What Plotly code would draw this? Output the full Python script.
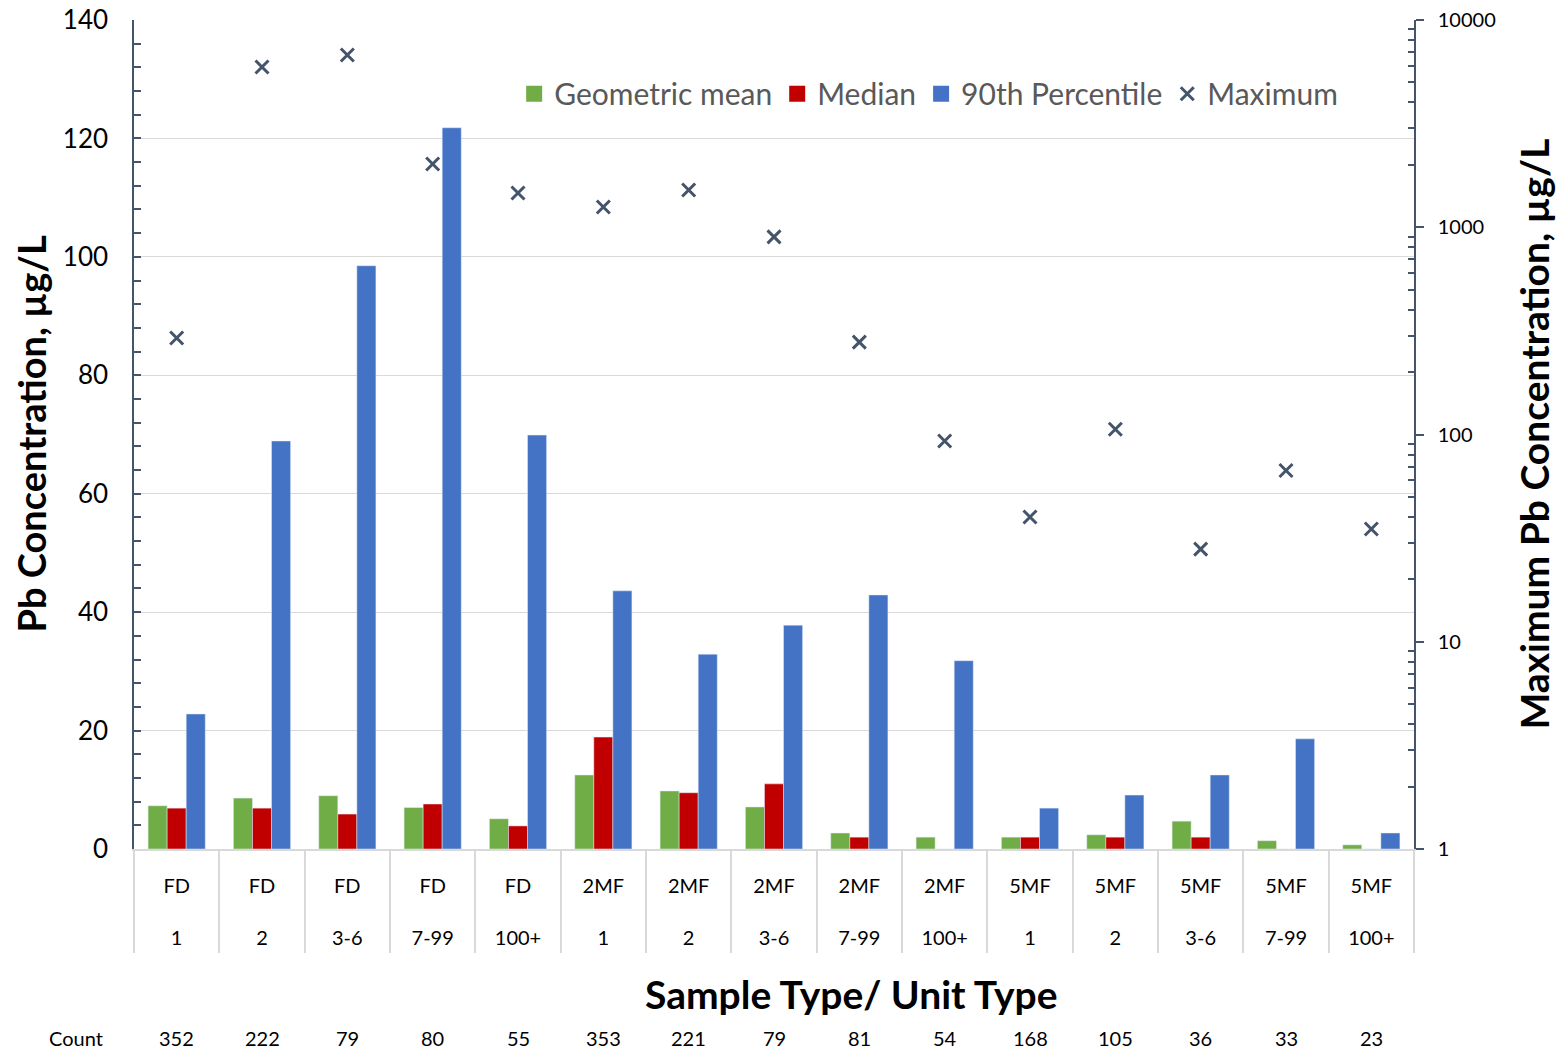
import plotly.graph_objects as go

sample_types = ["FD"] * 5 + ["2MF"] * 5 + ["5MF"] * 5
unit_types = ["1", "2", "3-6", "7-99", "100+"] * 3
categories = [f"{s} {u}" for s, u in zip(sample_types, unit_types)]
tick_text = [f"{s}<br><br>{u}" for s, u in zip(sample_types, unit_types)]

geo_mean = [7.3, 8.6, 9.0, 7.0, 5.1, 12.5, 9.8, 7.1, 2.7, 2.0, 2.0, 2.4, 4.7, 1.4, 0.7]
median = [6.9, 6.9, 5.9, 7.6, 3.9, 18.9, 9.5, 11.0, 2.0, 0, 2.0, 2.0, 2.0, 0, 0]
p90 = [22.8, 68.9, 98.5, 121.8, 69.9, 43.6, 32.9, 37.8, 42.9, 31.8, 6.9, 9.1, 12.5, 18.6, 2.7]
maximum = [292, 5930, 6780, 2020, 1463, 1253, 1513, 898, 279, 93, 40, 106, 28, 67, 35]
counts = [352, 222, 79, 80, 55, 353, 221, 79, 81, 54, 168, 105, 36, 33, 23]

FONT = "Lato"
AX = "#44546A"
GRID = "#D9D9D9"
GREEN, RED, BLUE = "#70AD47", "#C00000", "#4472C4"

fig = go.Figure()
fig.add_bar(x=categories, y=geo_mean, name="Geometric mean", marker_color=GREEN, showlegend=False)
fig.add_bar(x=categories, y=median, name="Median", marker_color=RED, showlegend=False)
fig.add_bar(x=categories, y=p90, name="90th Percentile", marker_color=BLUE, showlegend=False)
# legend entries with larger square swatches
for nm, col in [("Geometric mean", GREEN), ("Median", RED), ("90th Percentile", BLUE)]:
    fig.add_scatter(x=[None], y=[None], mode="markers", name=nm,
                    marker=dict(symbol="square", size=16, color=col))
fig.add_scatter(x=categories, y=maximum, name="Maximum", mode="markers", yaxis="y2",
                marker=dict(symbol="x-thin", size=13, line=dict(width=3, color=AX), color=AX))
# invisible helper trace for the divider axis
fig.add_scatter(x=categories, y=geo_mean, xaxis="x2", mode="markers",
                marker=dict(opacity=0), showlegend=False, hoverinfo="skip")

minor_log = [m * 10 ** d for d in range(4) for m in range(2, 10)]

fig.update_layout(
    width=1559, height=1051,
    margin=dict(l=134, r=145, t=20, b=202, autoexpand=False),
    paper_bgcolor="white", plot_bgcolor="white",
    font=dict(family=FONT, color="#000000"),
    barmode="group", bargap=0.33, bargroupgap=0,
    showlegend=True,
    legend=dict(orientation="h", x=0.297, y=0.911, xanchor="left", yanchor="middle",
                font=dict(size=30, color="#595959", family=FONT), bgcolor="rgba(0,0,0,0)",
                itemsizing="trace", tracegroupgap=0, itemwidth=30),
    xaxis=dict(type="category", categoryorder="array", categoryarray=categories,
               range=[-0.5, 14.5], tickvals=categories, ticktext=tick_text,
               tickfont=dict(size=20, color="#000000"), ticks="", ticklabelstandoff=18,
               showline=True, linecolor=GRID, linewidth=1.5, showgrid=False, zeroline=False,
               automargin=False),
    xaxis2=dict(type="category", categoryorder="array", categoryarray=categories,
                range=[-0.5, 14.5], overlaying="x", anchor="y", side="bottom",
                tickson="boundaries", ticks="outside", ticklen=103, tickwidth=1.5,
                tickcolor=GRID, showticklabels=False, showline=False, showgrid=False,
                zeroline=False, automargin=False),
    yaxis=dict(range=[0, 140], tickvals=list(range(0, 141, 20)), showgrid=True,
               gridcolor=GRID, gridwidth=1.2, zeroline=False,
               showline=True, linecolor=AX, linewidth=1.5,
               ticks="inside", ticklen=7, tickcolor=AX, tickwidth=1.5,
               tickfont=dict(size=26, color="#000000"), ticklabelstandoff=19,
               automargin=False,
               minor=dict(dtick=4, ticks="inside", ticklen=7, tickcolor=AX, tickwidth=1.5,
                          showgrid=False)),
    yaxis2=dict(type="log", range=[0, 4], overlaying="y", side="right",
                tickvals=[1, 10, 100, 1000, 10000], ticktext=["1", "10", "100", "1000", "10000"],
                showgrid=False, zeroline=False, showline=True, linecolor=AX, linewidth=1.5,
                ticks="outside", ticklen=8, tickcolor=AX, tickwidth=1.5,
                tickfont=dict(size=20, color="#000000"), ticklabelstandoff=10,
                automargin=False,
                minor=dict(tickvals=minor_log, ticks="inside", ticklen=6, tickcolor=AX,
                           tickwidth=1.5, showgrid=False)),
)

PLOT_L, PLOT_W, PLOT_B, PLOT_H = 134, 1280, 849, 829


def px_x(x):
    return (x - PLOT_L) / PLOT_W


def px_y(y):
    return (PLOT_B - y) / PLOT_H


annotations = [
    dict(text="<b>Sample Type/ Unit Type</b>", x=px_x(851), y=px_y(994),
         font=dict(size=39, family=FONT)),
    dict(text="<b>Pb Concentration, µg/L</b>", x=px_x(30), y=0.5, textangle=-90,
         font=dict(size=38, family=FONT)),
    dict(text="<b>Maximum Pb Concentration, µg/L</b>", x=px_x(1533), y=0.5, textangle=-90,
         font=dict(size=39, family=FONT)),
    dict(text="Count", x=px_x(76), y=px_y(1038), font=dict(size=20, family=FONT)),
]
for a in annotations:
    a.update(xref="paper", yref="paper", xanchor="center", yanchor="middle", showarrow=False)
for c, n in zip(categories, counts):
    annotations.append(dict(text=str(n), x=c, y=px_y(1038), xref="x", yref="paper",
                            xanchor="center", yanchor="middle",
                            showarrow=False, font=dict(size=20, family=FONT)))
fig.update_layout(annotations=annotations)

fig.write_html("out.html")
